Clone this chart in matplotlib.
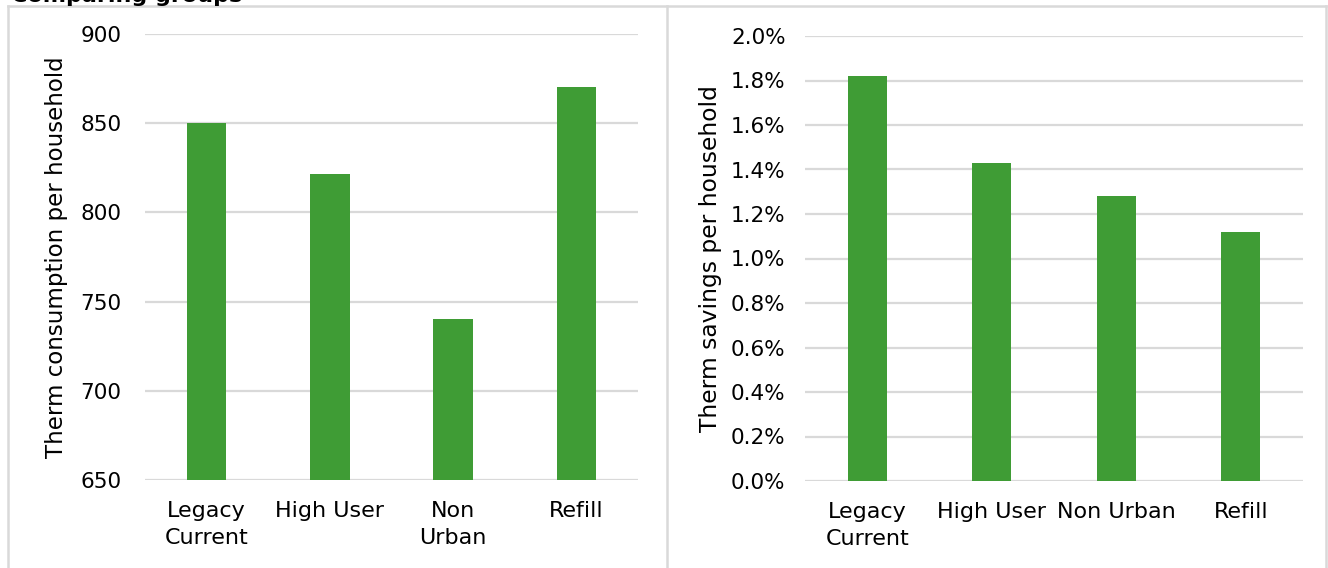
import matplotlib.pyplot as plt
from matplotlib.lines import Line2D
from matplotlib.ticker import FuncFormatter

# Data
groups_left = ['Legacy\nCurrent', 'High User', 'Non\nUrban', 'Refill']
consumption = [850, 821.5, 740, 870.5]

groups_right = ['Legacy\nCurrent', 'High User', 'Non Urban', 'Refill']
savings_pct = [1.82, 1.43, 1.28, 1.12]

bar_color = '#3f9c35'
grid_color = '#d9d9d9'

W, H = 1328, 568
fig = plt.figure(figsize=(W / 100, H / 100), dpi=100)
plt.rcParams['font.family'] = 'DejaVu Sans'


def px_axes(x0, x1, ytop, ybot):
    return fig.add_axes([x0 / W, 1 - ybot / H, (x1 - x0) / W, (ybot - ytop) / H])


def style(ax):
    for s in ax.spines.values():
        s.set_visible(False)
    ax.yaxis.grid(True, color=grid_color, linewidth=1.6)
    ax.set_axisbelow(True)
    ax.tick_params(axis='both', length=0, colors='black')
    ax.set_xlim(-0.5, 3.5)


# Left panel: consumption
ax1 = px_axes(145, 638, 34, 480)
ax1.bar(range(len(consumption)), consumption, width=0.32, color=bar_color, zorder=2)
style(ax1)
ax1.set_ylim(650, 900)
ax1.set_yticks([650, 700, 750, 800, 850, 900])
ax1.set_xticks(range(len(groups_left)))
ax1.set_xticklabels(groups_left, fontsize=16, linespacing=1.45)
ax1.tick_params(axis='x', pad=15)
ax1.tick_params(axis='y', labelsize=15.5, pad=17)
ax1.set_ylabel('Therm consumption per household', fontsize=16.5, va='center')
ax1.yaxis.set_label_coords((57 - 145) / 493, 0.5)

# Right panel: savings
ax2 = px_axes(805, 1303, 36, 481)
ax2.bar(range(len(savings_pct)), savings_pct, width=0.31, color=bar_color, zorder=2)
style(ax2)
ax2.set_ylim(0, 2.0)
ax2.set_yticks([0.2 * i for i in range(11)])
ax2.yaxis.set_major_formatter(FuncFormatter(lambda v, p: f'{v:.1f}%'))
ax2.set_xticks(range(len(groups_right)))
ax2.set_xticklabels(groups_right, fontsize=16, linespacing=1.45)
ax2.tick_params(axis='x', pad=15)
ax2.tick_params(axis='y', labelsize=15.5, pad=14)
ax2.set_ylabel('Therm savings per household', fontsize=16.8, va='center')
ax2.yaxis.set_label_coords((711 - 805) / 498, 0.5)

# Panel borders
def fline(xs, ys):
    fig.add_artist(Line2D([x / W for x in xs], [1 - y / H for y in ys],
                          color=grid_color, linewidth=1.8))

fline([8, 1326], [6, 6])
fline([8, 8], [6, H])
fline([667, 667], [6, H])
fline([1326, 1326], [6, H])

# Title, cut off at the top of the image (as in the reference)
fig.text(242 / W, 1 - 2 / H, 'Comparing groups', ha='right', va='baseline',
         fontsize=16, fontweight='bold', color='black')

fig.savefig('out.png', dpi=100)
